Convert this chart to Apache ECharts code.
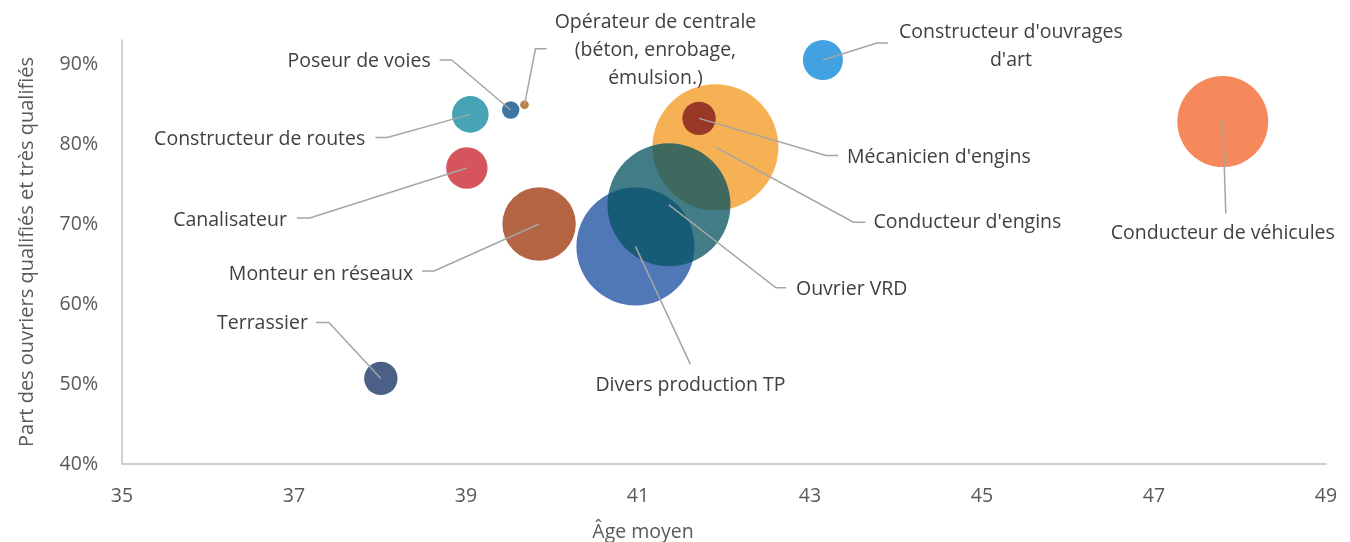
<!DOCTYPE html>
<html>
<head>
<meta charset="utf-8">
<style>
  html, body { margin: 0; padding: 0; background: #fff; }
  #chart { width: 1350px; height: 542px; }
</style>
<script src="https://cdn.jsdelivr.net/npm/echarts@6/dist/echarts.min.js"></script>
</head>
<body>
<div id="chart"></div>
<script>
// Métiers des TP : âge moyen / part des ouvriers qualifiés (taille = effectif)
var metiers = [
  'Terrassier', 'Canalisateur', 'Constructeur de routes', 'Poseur de voies',
  'Opérateur de centrale\n(béton, enrobage,\némulsion.)', 'Monteur en réseaux',
  'Divers production TP', "Conducteur d'engins", "Mécanicien d'engins",
  'Ouvrier VRD', "Constructeur d'ouvrages\nd'art", 'Conducteur de véhicules'
];
var ageMoyen = [38.01, 39.01, 39.05, 39.52, 39.68, 39.85, 40.97, 41.90, 41.71, 41.36, 43.15, 47.80];
var partQualifies = [50.7, 77.0, 83.7, 84.25, 84.9, 70.0, 67.2, 79.6, 83.2, 72.4, 90.5, 82.8];
var effectif = [2810, 4320, 3375, 760, 190, 13570, 35080, 40000, 2810, 38120, 4030, 20860];

var xTicks = [35, 37, 39, 41, 43, 45, 47, 49];
var yTicks = [40, 50, 60, 70, 80, 90];

var couleurs = ['#4A6086', '#D6545C', '#46A4B5', '#3E76A1', '#B98240', '#B46644',
  '#5078B6', '#F7B155', '#983826', '#055361', '#41A1E1', '#F5895B'];
var opacites = [1, 1, 1, 1, 1, 1, 1, 1, 1, 0.76, 1, 1];

// position des étiquettes (décalages en px depuis le centre de la bulle)
var etiquettes = [
  { elbow: [-52, -56], end: [-65, -56], text: [-73, -55], align: 'right' },
  { elbow: [-157, 50], end: [-170, 50], text: [-180, 52], align: 'right' },
  { elbow: [-83, 23], end: [-95, 23], text: [-105, 25], align: 'right' },
  { elbow: [-59, -50], end: [-71, -50], text: [-80, -49], align: 'right' },
  { elbow: [11, -56], end: [22, -56], text: [131, -54], align: 'center' },
  { elbow: [-105, 47], end: [-117, 47], text: [-126, 50], align: 'right' },
  { elbow: [55, 118], end: [55, 118], text: [55, 139], align: 'center' },
  { elbow: [138, 75], end: [150, 75], text: [158, 75], align: 'left' },
  { elbow: [127, 37], end: [139, 37], text: [148, 39], align: 'left' },
  { elbow: [107, 83], end: [117, 83], text: [127, 85], align: 'left' },
  { elbow: [54, -17], end: [65, -17], text: [188, -14], align: 'center' },
  { elbow: [3, 92], end: [3, 92], text: [0, 112], align: 'center' }
];

var maxEffectif = Math.max.apply(null, effectif);
var points = ageMoyen.map(function (a, i) {
  return {
    value: [a, partQualifies[i], effectif[i]],
    symbolSize: 126 * Math.sqrt(effectif[i] / maxEffectif),
    itemStyle: { color: couleurs[i], opacity: opacites[i] }
  };
});

var font = '"Open Sans", "Noto Sans", sans-serif';
var chart = echarts.init(document.getElementById('chart'));

chart.setOption({
  backgroundColor: '#fff',
  animation: false,
  grid: { left: 122, right: 24, top: 40, bottom: 78, outerBoundsMode: 'none' },
  xAxis: {
    type: 'value',
    min: xTicks[0],
    max: xTicks[xTicks.length - 1],
    interval: 2,
    name: 'Âge moyen',
    nameLocation: 'middle',
    nameGap: 58,
    nameTextStyle: { color: '#595959', fontSize: 19.5, fontFamily: font, padding: [0, 162, 0, 0] },
    axisLine: { show: true, lineStyle: { color: '#BFBFBF', width: 1.5 } },
    axisTick: { show: false },
    splitLine: { show: false },
    axisLabel: { color: '#595959', fontSize: 19.5, fontFamily: font, margin: 22 }
  },
  yAxis: {
    type: 'value',
    min: yTicks[0],
    max: 93,
    interval: 10,
    name: 'Part des ouvriers qualifiés et très qualifiés',
    nameLocation: 'middle',
    nameGap: 85,
    nameTextStyle: { color: '#595959', fontSize: 20, fontFamily: font },
    axisLine: { show: true, lineStyle: { color: '#BFBFBF', width: 1.5 } },
    axisTick: { show: false },
    splitLine: { show: false },
    axisLabel: {
      color: '#595959', fontSize: 19.5, fontFamily: font, margin: 24,
      formatter: function (v) { return yTicks.indexOf(v) >= 0 ? v + '%' : ''; }
    }
  },
  series: [
    {
      type: 'scatter',
      data: points,
      z: 2
    },
    {
      type: 'custom',
      z: 3,
      clip: false,
      data: ageMoyen.map(function (a, i) { return [a, partQualifies[i]]; }),
      renderItem: function (params, api) {
        var i = params.dataIndex;
        var c = api.coord([api.value(0), api.value(1)]);
        var L = etiquettes[i];
        return {
          type: 'group',
          children: [
            {
              type: 'polyline',
              shape: { points: [c, [c[0] + L.elbow[0], c[1] + L.elbow[1]], [c[0] + L.end[0], c[1] + L.end[1]]] },
              style: { stroke: '#A5A5A5', lineWidth: 1.5, fill: null }
            },
            {
              type: 'text',
              x: c[0] + L.text[0],
              y: c[1] + L.text[1],
              style: {
                text: metiers[i],
                align: L.align,
                verticalAlign: 'middle',
                fill: '#404040',
                fontSize: 19.5,
                fontFamily: font,
                lineHeight: 28
              }
            }
          ]
        };
      }
    }
  ]
});
</script>
</body>
</html>
